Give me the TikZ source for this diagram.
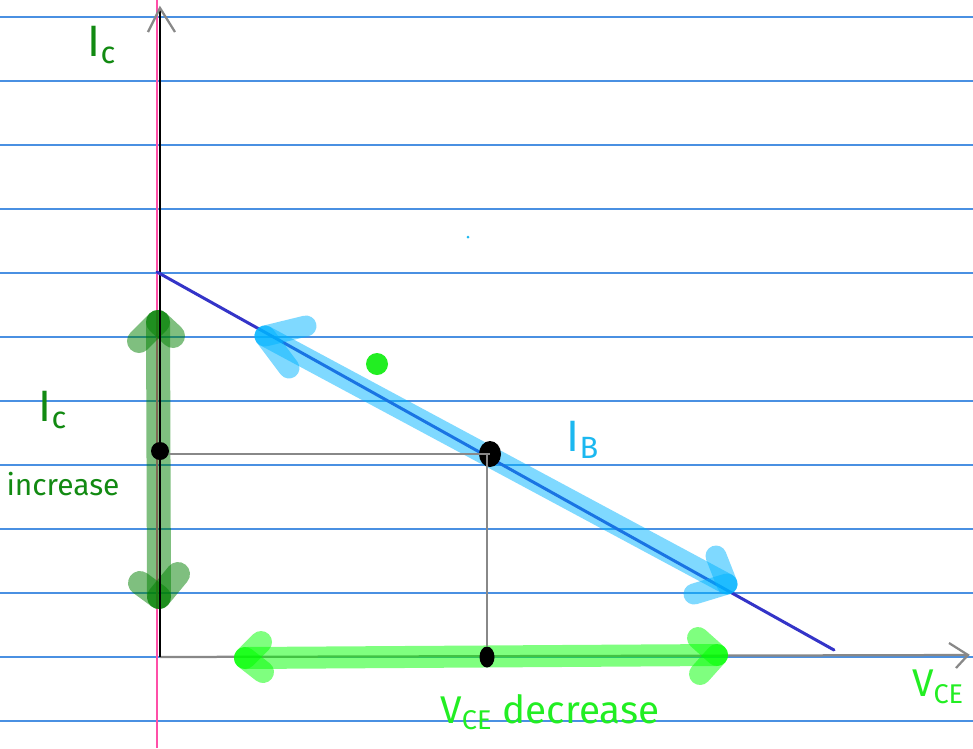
\documentclass[tikz,border=0pt]{standalone}
\usepackage{fontspec}
\setmainfont{Fira Sans}
\usepackage{xcolor}
\usepackage{tikz}
\usetikzlibrary{arrows.meta,positioning,calc,shapes.geometric}
\definecolor{ruleblue}{HTML}{4A90E2}
\definecolor{margin}{HTML}{FF4FA8}
\definecolor{loadblue}{HTML}{3434C8}
\definecolor{skyblue}{HTML}{00B4FF}
\definecolor{leafgreen}{HTML}{008000}
\definecolor{limegreen}{HTML}{00FF00}
\definecolor{inkgreen}{HTML}{128A12}
\definecolor{inklime}{HTML}{22EE22}
\definecolor{inksky}{HTML}{1CB8F0}
\definecolor{bk50}{HTML}{888888}
\tikzset{
  paperrule/.style={draw=ruleblue, line width=0.028cm},
  axisline/.style={draw=#1, line width=0.045cm},
  axisline/.default=black,
  loadline/.style={draw=loadblue, line width=0.06cm, line cap=round},
  marker/.style 2 args={
    draw=#1, line width=#2, opacity=0.5, line cap=round
  },
  guide/.style={draw=bk50, line width=0.04cm},
  dot/.style={
    ellipse, fill=black, inner sep=0pt
  },
  hand/.style={
    font=\fontsize{17}{17}\selectfont, color=#1, inner sep=0pt
  },
  hand/.default=inkgreen,
}

\begin{document}
\begin{tikzpicture}[x=0.02cm, y=-0.02cm]
  \useasboundingbox[fill=white] (0,0) rectangle (973,748);

  % Ruled paper
  \foreach \y in {17,81,...,721}
    \draw[paperrule] (0,\y) -- (973,\y);
  \draw[draw=margin, line width=0.04cm] (157,0) -- (157,748);

  % Axes
  \coordinate (org) at (160,657);
  \coordinate (ytop) at (160,8);
  \coordinate (xend) at (968,655);
  \draw[axisline] (org) -- (ytop);
  \draw[axisline=bk50] (148,32) -- (ytop) -- (175,32);
  \draw[axisline=bk50] (org) -- (xend);
  \draw[axisline=bk50] (949,643) -- (xend) -- (956,668);

  % Load line
  \coordinate (sat) at (157,272);
  \coordinate (cut) at (834,650);
  \draw[loadline] (sat) -- (cut);

  % I_B marker along the load line
  \coordinate (ib1) at (265,336);
  \coordinate (ib2) at (727,584);
  \draw[marker={skyblue}{0.42cm}] (ib1) -- (ib2);
  \draw[marker={skyblue}{0.42cm}] (ib1) -- (306,326);
  \draw[marker={skyblue}{0.42cm}] (ib1) -- (289,368);
  \draw[marker={skyblue}{0.42cm}] (ib2) -- (716,556);
  \draw[marker={skyblue}{0.42cm}] (ib2) -- (694,594);

  % I_C marker on the vertical axis
  \coordinate (ic1) at (158,322);
  \coordinate (ic2) at (159,597);
  \draw[marker={leafgreen}{0.48cm}] (ic1) -- (ic2);
  \draw[marker={leafgreen}{0.48cm}] (ic1) -- (139,341);
  \draw[marker={leafgreen}{0.48cm}] (ic1) -- (173,336);
  \draw[marker={leafgreen}{0.48cm}] (ic2) -- (140,583);
  \draw[marker={leafgreen}{0.48cm}] (ic2) -- (178,574);
  \draw[axisline] (160,300) -- (org);

  % V_CE marker on the horizontal axis
  \coordinate (vc1) at (245,658);
  \coordinate (vc2) at (717,655);
  \draw[marker={limegreen}{0.44cm}] (vc1) -- (vc2);
  \draw[marker={limegreen}{0.44cm}] (vc1) -- (261,642);
  \draw[marker={limegreen}{0.44cm}] (vc1) -- (263,672);
  \draw[marker={limegreen}{0.44cm}] (vc2) -- (698,638);
  \draw[marker={limegreen}{0.44cm}] (vc2) -- (700,674);

  % Operating point and its projections
  \node[dot, minimum width=0.36cm, minimum height=0.36cm] (icdot) at (160,451) {};
  \node[dot, minimum width=0.44cm, minimum height=0.52cm] (qpt) at (490,454) {};
  \node[dot, minimum width=0.3cm, minimum height=0.42cm] (vcedot) at (487,657) {};
  \draw[guide] (icdot.east |- qpt) -- (qpt.center);
  \draw[guide] (qpt.center -| vcedot) -- (vcedot.north);

  \node[circle, fill=inklime, minimum size=0.44cm, inner sep=0pt] (spot) at (377,364) {};
  \node[circle, fill=inksky, minimum size=0.06cm, inner sep=0pt] (speck) at (468,237) {};

  % Labels
  \node[hand, font=\fontsize{25}{25}\selectfont] (ictop) at (102,45) {I\textsubscript{c}};
  \node[hand, font=\fontsize{25}{25}\selectfont] (icmid) at (53,410) {I\textsubscript{c}};
  \node[hand] (icinc) at (63,484) {increase};
  \node[hand=inksky, font=\fontsize{25}{25}\selectfont] (iblab) at (583,440) {I\textsubscript{B}};
  \node[hand=inklime, font=\fontsize{22}{22}\selectfont] (vcelab) at (938,687) {V\textsubscript{CE}};
  \node[hand=inklime, font=\fontsize{22}{22}\selectfont] (vcedec) at (550,712) {V\textsubscript{CE} decrease};
\end{tikzpicture}
\end{document}
